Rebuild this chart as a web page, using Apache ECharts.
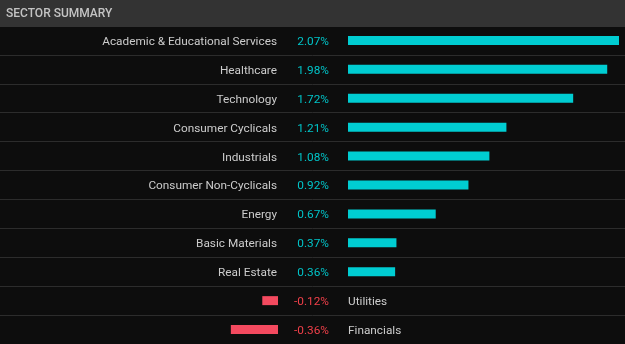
<!DOCTYPE html>
<html>
<head>
<meta charset="utf-8">
<script src="https://cdn.jsdelivr.net/npm/echarts@6/dist/echarts.min.js"></script>
<style>
html,body{margin:0;padding:0;background:#0d0d0d;}
#chart{width:625px;height:344px;}
</style>
</head>
<body>
<div id="chart"></div>
<script>
const title = 'SECTOR SUMMARY';
const categories = ['Academic & Educational Services','Healthcare','Technology','Consumer Cyclicals','Industrials','Consumer Non-Cyclicals','Energy','Basic Materials','Real Estate','Utilities','Financials'];
const values = [2.07,1.98,1.72,1.21,1.08,0.92,0.67,0.37,0.36,-0.12,-0.36];

const FONT = 'Roboto';
const FS = 11.8;
const PAD = [3,0,0,0];
const txt = {t:{color:'#cccccc',fontSize:FS,fontFamily:FONT}};
const chart = echarts.init(document.getElementById('chart'));
const hidden = {axisLine:{show:false},axisTick:{show:false},splitLine:{show:false}};
chart.setOption({
  backgroundColor:'#0d0d0d',
  animation:false,
  graphic:[
    {type:'rect',shape:{x:0,y:0,width:625,height:27},style:{fill:'#333333'},z:10},
    {type:'text',x:6,y:14,style:{text:title,fill:'#c4c4c4',font:'500 12px '+FONT,textVerticalAlign:'middle'},z:11}
  ],
  grid:[
    {left:348,right:6,top:26,bottom:-1},
    {left:147,right:347,top:26,bottom:-1},
    {left:0,right:0,top:26,bottom:-1}
  ],
  xAxis:[
    {gridIndex:0,type:'value',min:0,max:2.07,show:false},
    {gridIndex:1,type:'value',min:-1,max:0,show:false},
    {gridIndex:2,type:'value',min:0,max:1,show:false}
  ],
  yAxis:[
    Object.assign({gridIndex:0,type:'category',data:categories,inverse:true,position:'left',
      axisLabel:{interval:0,margin:71,fontSize:FS,fontFamily:FONT,padding:PAD,rich:txt,
        formatter:(v,i)=>values[i]>=0?'{t|'+v+'}':''}},hidden),
    Object.assign({gridIndex:0,type:'category',data:categories,inverse:true,position:'left',
      axisLabel:{interval:0,margin:19,fontSize:FS,fontFamily:FONT,padding:PAD,
        formatter:(v,i)=>(values[i]>=0?'{p|':'{n|')+values[i].toFixed(2)+'%}',
        rich:{p:{color:'#00c4c8',fontSize:FS,fontFamily:FONT},n:{color:'#f0404a',fontSize:FS,fontFamily:FONT}}}},hidden),
    Object.assign({gridIndex:1,type:'category',data:categories,inverse:true,position:'right',
      axisLabel:{interval:0,margin:70,fontSize:FS,fontFamily:FONT,padding:PAD,rich:txt,
        formatter:(v,i)=>values[i]<0?'{t|'+v+'}':''}},hidden),
    {gridIndex:2,type:'category',data:categories,inverse:true,axisLine:{show:false},axisTick:{show:false},axisLabel:{show:false},
      splitLine:{show:true,lineStyle:{color:'#2c2c2c',width:1}}}
  ],
  series:[
    {type:'bar',xAxisIndex:0,yAxisIndex:0,barWidth:9,itemStyle:{color:'#00cdd2'},
      data:values.map(v=>v>=0?v:'-')},
    {type:'bar',xAxisIndex:1,yAxisIndex:2,barWidth:9,itemStyle:{color:'#f44a5f'},
      data:values.map(v=>v<0?v:'-')}
  ]
});
</script>
</body>
</html>
